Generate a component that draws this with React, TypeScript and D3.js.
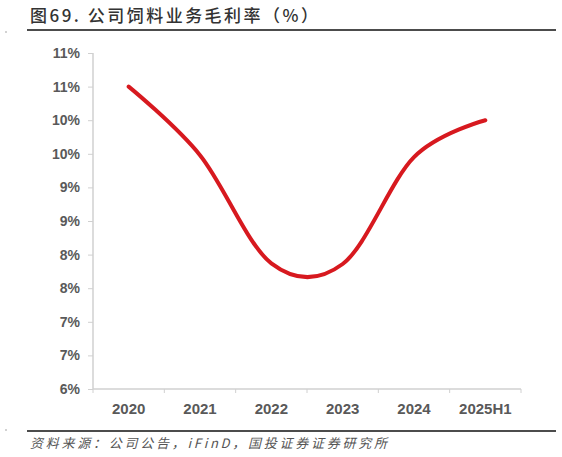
import * as d3 from 'd3';
import React, { useEffect, useRef } from 'react';

const categories = ['2020', '2021', '2022', '2023', '2024', '2025H1'];
const grossMargin = [10.5, 9.48, 7.87, 7.86, 9.45, 10.0];
const yTicks = [6, 6.5, 7, 7.5, 8, 8.5, 9, 9.5, 10, 10.5, 11];
const yTickLabels = ['6%', '7%', '7%', '8%', '8%', '9%', '9%', '10%', '10%', '11%', '11%'];

const title = '图69. 公司饲料业务毛利率（%）';
const source = '资料来源：公司公告，iFinD，国投证券证券研究所';

const width = 562;
const height = 457;
const margin = { top: 53, bottom: 68, left: 93, right: 41 };

export default function App() {
    const ref = useRef<SVGSVGElement>(null);

    useEffect(() => {
        const svg = d3.select(ref.current);
        svg.selectAll('*').remove();

        const xScale = d3
            .scaleBand()
            .domain(categories)
            .range([margin.left, width - margin.right])
            .paddingInner(0)
            .paddingOuter(0);

        const yScale = d3
            .scaleLinear()
            .domain([6, 11])
            .range([height - margin.bottom, margin.top]);

        const axisColor = '#d0d0d0';
        const labelFont = '"Liberation Sans", Arial, sans-serif';

        // title + rule
        svg.append('text')
            .attr('x', 30)
            .attr('y', 22)
            .attr('font-family', '"Noto Sans CJK SC", sans-serif')
            .attr('font-size', 17)
            .attr('font-weight', 500)
            .attr('fill', '#333')
            .attr('textLength', 288)
            .attr('lengthAdjust', 'spacing')
            .text(title);
        svg.append('line')
            .attr('x1', 27)
            .attr('x2', 556)
            .attr('y1', 30)
            .attr('y2', 30)
            .attr('stroke', '#111')
            .attr('stroke-width', 1.5);

        // y axis
        const yAxis = d3
            .axisLeft(yScale)
            .tickValues(yTicks)
            .tickSize(5)
            .tickPadding(8)
            .tickFormat((d, i) => yTickLabels[i]);
        const gy = svg.append('g').attr('transform', `translate(${margin.left},0)`).call(yAxis);
        gy.select('.domain').attr('stroke', axisColor).attr('stroke-width', 1.5).attr('d', `M0,${yScale(11)}V${yScale(6)}`);
        gy.selectAll('.tick line').attr('stroke', axisColor);
        gy.selectAll('.tick text')
            .attr('font-family', labelFont)
            .attr('font-size', 14)
            .attr('font-weight', 'bold')
            .attr('fill', '#595959');

        // x axis
        const baseY = yScale(6);
        const gx = svg.append('g');
        gx.append('line')
            .attr('x1', margin.left)
            .attr('x2', width - margin.right)
            .attr('y1', baseY)
            .attr('y2', baseY)
            .attr('stroke', axisColor)
            .attr('stroke-width', 1.5);
        const edges = categories.map((c) => xScale(c)!).concat([width - margin.right]);
        gx.selectAll('.xtick')
            .data(edges)
            .join('line')
            .attr('x1', (d) => d)
            .attr('x2', (d) => d)
            .attr('y1', baseY)
            .attr('y2', baseY + 4)
            .attr('stroke', axisColor);
        gx.selectAll('.xlabel')
            .data(categories)
            .join('text')
            .attr('x', (d) => xScale(d)! + xScale.bandwidth() / 2)
            .attr('y', baseY + 25)
            .attr('text-anchor', 'middle')
            .attr('font-family', labelFont)
            .attr('font-size', 15)
            .attr('font-weight', 'bold')
            .attr('fill', '#595959')
            .text((d) => d);

        // line
        const line = d3
            .line<number>()
            .x((d, i) => xScale(categories[i])! + xScale.bandwidth() / 2)
            .y((d) => yScale(d))
            .curve(d3.curveCardinal.tension(0));
        svg.append('path')
            .datum(grossMargin)
            .attr('d', line)
            .attr('fill', 'none')
            .attr('stroke', '#d7191f')
            .attr('stroke-width', 4)
            .attr('stroke-linecap', 'round');

        // footer
        svg.append('line')
            .attr('x1', 27)
            .attr('x2', 556)
            .attr('y1', 431)
            .attr('y2', 431)
            .attr('stroke', '#111')
            .attr('stroke-width', 1.5);
        svg.append('circle').attr('cx', 6).attr('cy', 32).attr('r', 0.8).attr('fill', '#999');
        svg.append('circle').attr('cx', 6).attr('cy', 430).attr('r', 0.8).attr('fill', '#999');
        svg.append('text')
            .attr('x', 30)
            .attr('y', 448)
            .attr('font-family', '"Noto Sans CJK SC", sans-serif')
            .attr('font-size', 13)
            .attr('font-style', 'italic')
            .attr('fill', '#555')
            .attr('textLength', 357)
            .attr('lengthAdjust', 'spacing')
            .text(source);
    }, []);

    return (
        <div style={{ position: 'absolute', left: 0, top: 0 }}>
            <svg ref={ref} width={width} height={height} style={{ display: 'block', background: '#fff' }}></svg>
        </div>
    );
}
